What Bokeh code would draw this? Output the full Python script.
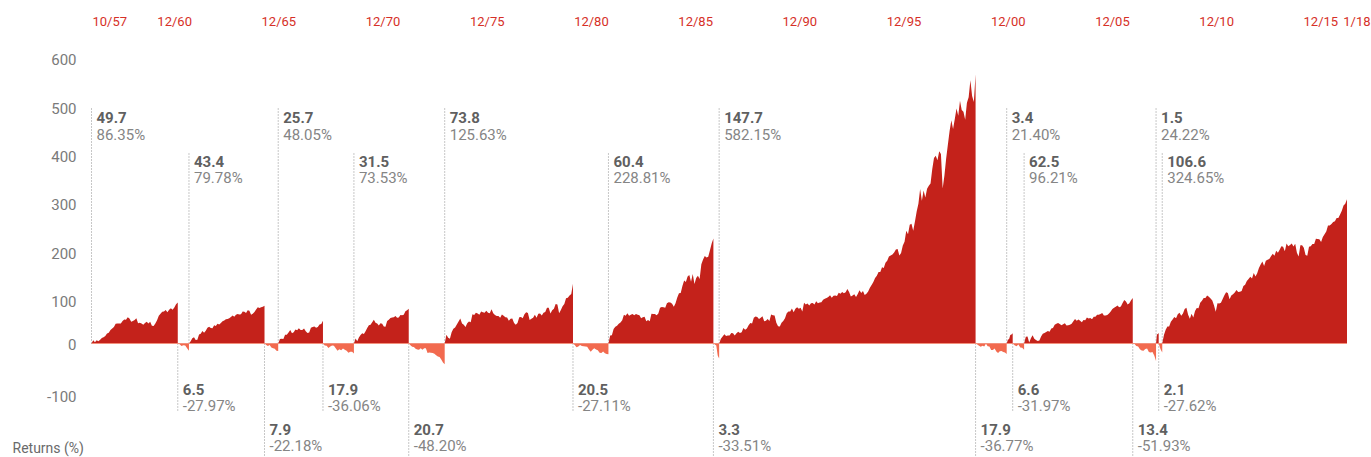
import numpy as np
from datetime import date
from bokeh.plotting import figure
from bokeh.models import Range1d
from bokeh.core.properties import value
from bokeh.embed import file_html
from bokeh.resources import INLINE

FONT = "Roboto"

# ---------------- data ----------------
seg_dates = ["1957-10-22", "1961-12-12", "1962-06-26", "1966-02-09", "1966-10-07",
             "1968-11-29", "1970-05-26", "1973-01-11", "1974-10-03", "1980-11-28",
             "1982-08-12", "1987-08-25", "1987-12-04", "2000-03-24", "2001-09-21",
             "2002-01-04", "2002-07-23", "2007-10-09", "2008-11-20", "2009-01-06",
             "2009-03-09", "2018-01-19"]
seg_kind = ["bull", "bear"] * 10 + ["bull"]
seg_months = [49.7, 6.5, 43.4, 7.9, 25.7, 17.9, 31.5, 20.7, 73.8, 20.5, 60.4, 3.3,
              147.7, 17.9, 3.4, 6.6, 62.5, 13.4, 1.5, 2.1, 106.6]
seg_return = [86.35, -27.97, 79.78, -22.18, 48.05, -36.06, 73.53, -48.20, 125.63, -27.11,
              228.81, -33.51, 582.15, -36.77, 21.40, -31.97, 96.21, -51.93, 24.22, -27.62,
              324.65]
seg_label_level = [0, 0, 1, 1, 0, 0, 1, 1, 0, 0, 1, 1, 0, 1, 0, 0, 1, 1, 0, 0, 1]

bull_1957 = [0, 7.0, 2.6, 7.0, 4.8, 8.0, 11.4, 13.1, 16.1, 21.1, 22.5, 28.4, 31.7, 34.6, 41.6,
             42.2, 42.2, 42.2, 47.7, 50.5, 50.0, 55.2, 52.9, 45.9, 47.6, 49.5, 53.6, 42.7, 44.0,
             42.0, 39.5, 43.2, 46.0, 42.4, 46.1, 37.3, 37.0, 42.5, 49.1, 58.5, 62.7, 66.9, 67.5,
             70.8, 65.8, 71.3, 74.6, 71.2, 76.0, 83.0, 86.4]
bear_1961 = [0, -1.5, -5.2, -3.7, -4.3, -10.2, -15.5]
bull_1962 = [0, 4.6, 11.3, 13.0, 7.5, 8.0, 19.0, 20.6, 26.5, 22.9, 27.2, 33.4, 35.3, 32.6, 32.1,
             38.6, 37.0, 41.5, 40.0, 43.4, 47.2, 48.7, 51.0, 51.9, 53.6, 56.1, 59.0, 56.4, 60.9,
             62.2, 61.4, 62.0, 67.4, 67.1, 64.7, 70.3, 69.0, 60.8, 62.9, 66.6, 71.9, 76.6, 75.1,
             76.7, 77.5, 79.8]
bear_1966 = [0, -3.0, -5.1, -3.2, -8.4, -9.9, -11.1, -15.5, -16.0]
bull_1966 = [0, 9.6, 9.9, 9.7, 18.3, 18.6, 23.2, 28.4, 21.7, 23.8, 29.4, 27.9, 32.1, 28.3, 28.4,
             31.8, 26.0, 22.1, 23.2, 33.3, 34.8, 36.0, 33.5, 35.1, 40.3, 41.3, 48.0]
bear_1968 = [0, -4.2, -4.9, -9.4, -6.3, -4.3, -4.5, -9.8, -15.3, -11.9, -14.1, -10.3, -13.4,
             -15.1, -19.5, -17.4, -17.3, -21.0]
bull_1970 = [0, 10.5, 5.0, 12.6, 17.7, 21.5, 20.1, 25.8, 33.0, 38.4, 39.6, 44.8, 50.0, 43.8,
             42.4, 37.9, 42.9, 41.9, 36.0, 35.6, 47.3, 50.0, 53.8, 54.7, 55.4, 58.1, 54.6, 55.0,
             60.3, 59.5, 61.0, 68.4, 70.4, 73.5]
bear_1973 = [0, -3.5, -7.1, -7.3, -11.0, -12.7, -13.3, -10.0, -13.3, -9.8, -9.9, -20.2, -18.9,
             -19.7, -20.0, -21.8, -24.9, -27.4, -28.5, -34.0, -40.0, -44.0]
bull_1974 = [0, 18.7, 12.3, 10.1, 23.6, 31.0, 33.8, 40.2, 46.4, 52.8, 42.5, 39.5, 34.7, 43.0,
             46.5, 44.8, 61.9, 60.1, 65.0, 63.2, 60.9, 67.4, 66.1, 65.2, 69.0, 65.2, 63.9, 72.5,
             63.8, 60.3, 58.0, 58.1, 54.3, 61.3, 58.7, 55.4, 55.0, 48.3, 52.3, 52.7, 43.3, 39.8,
             43.2, 55.5, 56.1, 53.4, 61.7, 65.8, 64.6, 49.6, 52.1, 54.3, 60.5, 54.6, 63.1, 63.4,
             59.1, 65.2, 66.7, 75.5, 75.5, 63.5, 70.5, 73.3, 83.3, 82.5, 63.9, 70.7, 78.6, 83.4,
             95.4, 96.5, 101.4, 104.7, 126.0]
bear_1980 = [0, -3.4, -7.8, -6.6, -3.2, -5.5, -5.6, -6.6, -6.8, -12.6, -17.3, -13.3, -10.1,
             -12.8, -14.3, -19.5, -20.3, -17.1, -20.4, -22.0, -22.5]
bull_1982 = [0, 16.7, 17.6, 30.6, 35.3, 37.3, 41.9, 44.6, 49.3, 60.5, 58.6, 64.1, 58.7, 60.5,
             62.1, 59.7, 62.5, 61.0, 59.5, 53.3, 55.4, 56.3, 47.0, 49.6, 47.1, 62.7, 62.2, 62.2,
             59.7, 63.3, 75.4, 76.9, 76.4, 75.6, 85.1, 87.3, 86.4, 84.2, 77.8, 85.3, 97.4, 106.3,
             106.8, 121.6, 133.3, 130.0, 141.5, 144.9, 130.5, 147.0, 125.9, 138.2, 143.3, 136.4,
             167.6, 177.5, 184.8, 181.5, 183.2, 196.8, 211.1, 222.0]
bear_1987 = [0, -2.1, -4.4, -25.2, -31.6]
bull_1987 = [0, 10.3, 14.8, 19.6, 15.6, 16.7, 17.1, 22.1, 21.5, 16.8, 21.4, 24.6, 22.2, 24.0,
             32.8, 29.0, 31.7, 38.3, 43.1, 42.0, 54.6, 57.0, 55.9, 52.0, 54.5, 57.8, 47.0, 48.2,
             51.8, 47.7, 61.3, 59.9, 59.1, 44.1, 36.7, 35.8, 43.9, 47.5, 53.6, 63.9, 67.6, 67.6,
             74.1, 65.8, 73.2, 76.6, 73.2, 75.3, 67.6, 86.3, 82.6, 84.3, 80.3, 85.3, 85.5, 82.3,
             89.4, 84.9, 86.6, 87.0, 92.6, 94.6, 96.0, 98.0, 101.7, 96.6, 101.0, 101.2, 100.1,
             107.0, 105.0, 108.9, 106.2, 108.3, 115.1, 108.6, 99.1, 101.4, 103.9, 98.4, 104.7,
             112.3, 106.6, 110.9, 102.6, 105.1, 110.1, 117.7, 123.6, 129.9, 138.2, 143.3, 151.0,
             150.9, 161.0, 159.7, 170.4, 175.1, 184.0, 186.0, 188.3, 192.1, 198.8, 199.5, 185.8,
             191.2, 206.9, 215.0, 238.1, 230.8, 251.1, 253.2, 238.1, 257.9, 278.8, 295.3, 326.2,
             301.7, 323.0, 308.5, 326.7, 333.4, 337.8, 368.6, 392.0, 396.5, 387.1, 406.4, 400.5,
             327.5, 354.2, 390.6, 419.7, 449.0, 471.5, 453.0, 474.5, 496.3, 481.4, 513.0, 493.4,
             489.7, 472.8, 508.7, 520.3, 556.1, 522.7, 510.2, 569.0]
bear_2000 = [0, -1.9, -4.9, -7.0, -4.8, -6.3, -0.6, -6.0, -6.4, -13.9, -13.6, -10.6, -17.0,
             -20.0, -16.5, -16.0, -18.0, -19.0, -22.0]
bull_2001 = [0, 7.8, 9.7, 18.0, 18.9, 21.4]
bear_2002 = [0, -3.6, -5.6, -2.1, -8.2, -9.0, -13.0]
bull_2002 = [0, 14.3, 14.8, 2.2, 11.0, 17.4, 10.3, 7.3, 5.4, 6.3, 14.9, 20.8, 22.2, 24.1, 26.4,
             24.9, 31.7, 32.7, 39.4, 41.8, 43.5, 41.2, 38.8, 40.5, 43.0, 38.1, 38.4, 39.7, 41.7,
             47.2, 51.9, 48.1, 50.9, 48.0, 45.0, 49.4, 49.3, 54.7, 53.0, 54.0, 51.3, 56.6, 56.5,
             60.5, 60.5, 62.3, 64.3, 59.2, 59.2, 60.0, 63.4, 67.5, 72.7, 75.6, 77.8, 80.3, 76.4,
             78.1, 85.8, 91.9, 88.5, 82.4, 84.8, 91.4, 96.2]
bear_2007 = [0, -1.0, -5.4, -6.2, -11.9, -15.0, -15.5, -11.5, -10.5, -18.2, -19.0, -18.0, -25.5,
             -37.0]
bull_2008 = [0, 19.1, 20.0, 22.0]
bear_2009 = [0, -11.6, -19.0]
bull_2009 = [0, 17.9, 29.0, 35.9, 35.9, 46.0, 50.9, 56.2, 53.2, 61.9, 64.8, 58.7, 63.3, 72.9,
             75.4, 61.0, 52.4, 62.8, 55.1, 68.7, 74.9, 74.5, 85.9, 90.1, 96.2, 96.0, 101.6, 98.8,
             95.2, 91.0, 80.2, 67.2, 85.3, 84.3, 85.9, 94.0, 101.9, 108.2, 106.6, 93.7, 101.3,
             103.9, 107.9, 113.0, 108.7, 109.3, 110.8, 121.4, 123.9, 131.9, 136.1, 141.0, 137.4,
             149.2, 141.4, 148.6, 159.6, 166.9, 173.2, 163.5, 174.9, 176.8, 178.5, 184.3, 189.7,
             185.4, 196.1, 191.5, 198.3, 205.6, 204.3, 194.9, 211.1, 205.7, 208.3, 211.5, 205.0,
             211.0, 191.5, 183.8, 207.4, 207.5, 202.1, 186.8, 185.6, 204.5, 205.3, 210.0, 210.2,
             221.3, 220.9, 220.5, 214.3, 225.0, 230.9, 236.8, 249.4, 249.2, 252.4, 256.5, 258.2,
             265.1, 265.3, 272.4, 280.7, 291.4, 295.2, 305.0]

series = [bull_1957, bear_1961, bull_1962, bear_1966, bull_1966, bear_1968, bull_1970,
          bear_1973, bull_1974, bear_1980, bull_1982, bear_1987, bull_1987, bear_2000,
          bull_2001, bear_2002, bull_2002, bear_2007, bull_2008, bear_2009, bull_2009]

x_tick_labels = ["10/57", "12/60", "12/65", "12/70", "12/75", "12/80", "12/85", "12/90",
                 "12/95", "12/00", "12/05", "12/10", "12/15"]
x_tick_years = [None, 1960, 1965, 1970, 1975, 1980, 1985, 1990, 1995, 2000, 2005, 2010,
                2015]
x_end_label = "1/18"
y_tick_values = [600, 500, 400, 300, 200, 100, 0, -100]
y_axis_title = "Returns (%)"

# ---------------- helpers ----------------
def dec_year(s):
    d = date.fromisoformat(s)
    return d.year + (d - date(d.year, 1, 1)).days / 365.25

seg_x = [dec_year(s) for s in seg_dates]

# layout (page pixels; the figure sits at the page's top-left corner)
W, H = 1371, 457
PX_PER_YEAR = 20.84
X0_PAGE = 91.0
ZERO_PAGE = 343.0
PX_PER_UNIT = 0.4733

x_start = seg_x[0] - X0_PAGE / PX_PER_YEAR
x_end = x_start + W / PX_PER_YEAR

def yd(py):
    return (ZERO_PAGE - py) / PX_PER_UNIT

def xd(px):
    return x_start + px / PX_PER_YEAR

p = figure(width=W, height=H, output_backend="svg", toolbar_location=None,
           x_axis_type=None, y_axis_type=None,
           x_range=Range1d(x_start, x_end), y_range=Range1d(yd(H), yd(0)),
           min_border=0, min_border_left=0, min_border_right=0,
           min_border_top=0, min_border_bottom=0)
p.outline_line_color = None
p.background_fill_color = "white"
p.border_fill_color = "white"

BULL = "#c4221b"
BEAR = "#f26a4f"
GREY_LINE = "#8f8f8f"

bull_rows = [dict(top=107, bold=116.5, pct=134.0), dict(top=152, bold=160.5, pct=177.5)]
bear_rows = [dict(bot=412, bold=388.5, pct=405.5), dict(bot=470, bold=428.5, pct=445.5)]

lx, ly0, ly1 = [], [], []
bx, by, btxt = [], [], []
px_, py_, ptxt = [], [], []
for i, kind in enumerate(seg_kind):
    lvl = seg_label_level[i]
    x = seg_x[i]
    if kind == "bull":
        r = bull_rows[lvl]
        end = yd(r["top"])
    else:
        r = bear_rows[lvl]
        end = yd(r["bot"])
    lx.append(x); ly0.append(0); ly1.append(end)
    bx.append(x); by.append(yd(r["bold"])); btxt.append(f"{seg_months[i]:.1f}")
    px_.append(x); py_.append(yd(r["pct"])); ptxt.append(f"{seg_return[i]:.2f}%")

p.segment(x0=lx, y0=ly0, x1=lx, y1=ly1, line_color=GREY_LINE, line_width=1,
          line_dash="1 2")

for i, vals in enumerate(series):
    xs = np.linspace(seg_x[i], seg_x[i + 1], len(vals))
    p.varea(x=xs, y1=np.zeros(len(vals)), y2=np.array(vals, dtype=float),
            fill_color=BULL if seg_kind[i] == "bull" else BEAR, fill_alpha=1.0)

p.line(x=[seg_x[0], seg_x[-1]], y=[0, 0], line_color="#f3907c", line_width=1)

p.text(x=bx, y=by, text=btxt, text_font=value(FONT), text_font_size="15px",
       text_font_style="bold", text_color="#606060", text_align="left",
       text_baseline="middle", x_offset=5)
p.text(x=px_, y=py_, text=ptxt, text_font=value(FONT), text_font_size="15px",
       text_color="#858585", text_align="left", text_baseline="middle", x_offset=5)

tick_x = [seg_x[0] if yr is None else yr + 11 / 12 for yr in x_tick_years]
p.text(x=tick_x, y=[yd(21)] * len(tick_x), text=x_tick_labels, text_font=value(FONT),
       text_font_size="13px", text_color="#d63027", text_align="left",
       text_baseline="middle", x_offset=1)
# last date label: kept inside the window's right edge
p.text(x=[xd(1370)], y=[yd(21)], text=[x_end_label], text_font=value(FONT),
       text_font_size="13px", text_color="#d63027", text_align="right",
       text_baseline="middle")

ytick_rows = [59, 107.5, 156, 204, 252.5, 301, 343.5, 396]
p.text(x=[xd(76)] * len(y_tick_values), y=[yd(r) for r in ytick_rows],
       text=[str(v) for v in y_tick_values], text_font=value(FONT), text_font_size="15px",
       text_color="#7a7a7a", text_align="right", text_baseline="middle")

p.text(x=[xd(12)], y=[yd(447)], text=[y_axis_title], text_font=value(FONT),
       text_font_size="14px", text_color="#6a6a6a", text_align="left",
       text_baseline="middle")

open("out.html", "w").write(file_html(p, INLINE))
